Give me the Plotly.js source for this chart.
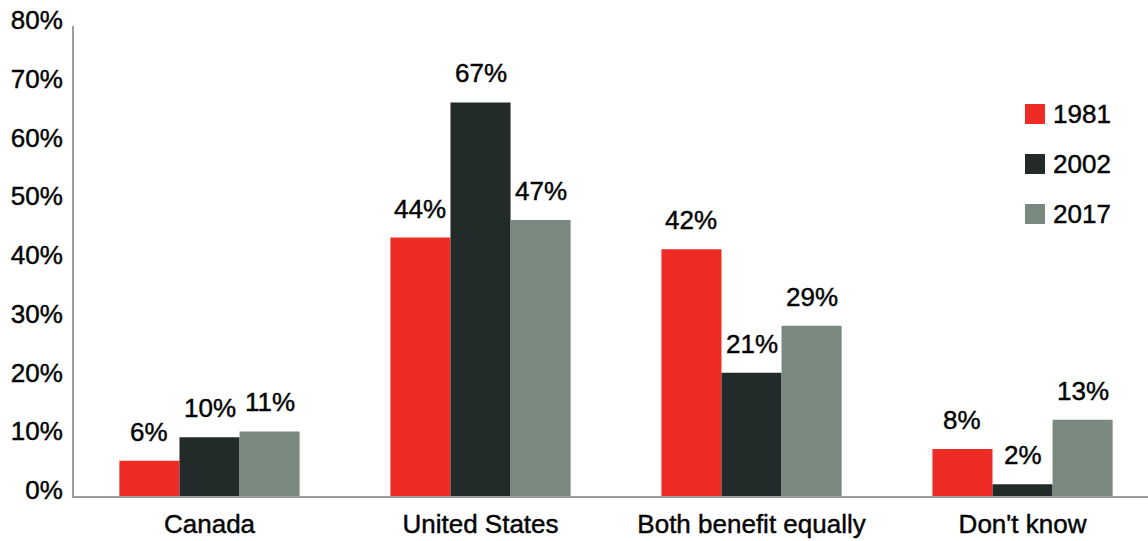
<!DOCTYPE html>
<html>
<head>
<meta charset="utf-8">
<script src="https://cdn.plot.ly/plotly-3.0.1.min.js"></script>
<style>
  html, body { margin: 0; padding: 0; background: #ffffff; }
  #chart { width: 1148px; height: 541px; }
  /* slightly heavier text strokes */
  #chart svg text { stroke: #050505; stroke-width: 0.45px; }
</style>
</head>
<body>
<div id="chart"></div>
<script>
// Survey answers by year
const categories = ['Canada', 'United States', 'Both benefit equally', "Don't know"];
const years = ['1981', '2002', '2017'];
const values1981 = [6, 44, 42, 8];
const values2002 = [10, 67, 21, 2];
const values2017 = [11, 47, 29, 13];
const yTickValues = [0, 10, 20, 30, 40, 50, 60, 70, 80];
const yTickLabels = ['0%', '10%', '20%', '30%', '40%', '50%', '60%', '70%', '80%'];

const seriesValues = [values1981, values2002, values2017];
const colors = ['#ee2c25', '#222b29', '#7a897f'];

const FONT = '"Liberation Sans", Arial, Helvetica, sans-serif';
const TEXT_COLOR = '#050505';
const W = 1148, H = 541;
const margin = { l: 74, r: 0, t: 26, b: 45 };
const plotW = W - margin.l - margin.r;
const plotH = H - margin.t - margin.b;
const bargap = 0.335;
const barFrac = (1 - bargap) / years.length;

const traces = seriesValues.map((vals, i) => ({
  type: 'bar',
  name: years[i],
  x: categories,
  y: vals,
  marker: { color: colors[i], line: { width: 0 } },
  showlegend: false,
  hoverinfo: 'skip'
}));

// value labels above each bar
const annotations = [];
seriesValues.forEach((vals, i) => {
  vals.forEach((v, c) => {
    annotations.push({
      x: c + (i - (years.length - 1) / 2) * barFrac,
      y: v,
      xref: 'x', yref: 'y',
      text: v + '%',
      showarrow: false,
      xanchor: 'center', yanchor: 'bottom',
      yshift: 12,
      font: { family: FONT, size: 26, color: TEXT_COLOR }
    });
  });
});

// legend: coloured squares with year labels
const px2x = p => (p - margin.l) / plotW;
const px2y = p => (H - margin.b - p) / plotH;
const shapes = [];
years.forEach((yr, i) => {
  const cy = 114 + i * 50;
  shapes.push({
    type: 'rect', xref: 'paper', yref: 'paper',
    x0: px2x(1025), x1: px2x(1045),
    y0: px2y(cy + 10), y1: px2y(cy - 10),
    fillcolor: colors[i], line: { width: 0 }
  });
  annotations.push({
    xref: 'paper', yref: 'paper',
    x: px2x(1051), y: px2y(cy),
    xanchor: 'left', yanchor: 'middle',
    text: yr, showarrow: false,
    font: { family: FONT, size: 26, color: TEXT_COLOR }
  });
});

const layout = {
  width: W, height: H,
  margin: margin,
  paper_bgcolor: '#ffffff',
  plot_bgcolor: '#ffffff',
  barmode: 'group',
  bargap: bargap,
  bargroupgap: 0,
  showlegend: false,
  font: { family: FONT, size: 26, color: TEXT_COLOR },
  xaxis: {
    type: 'category',
    range: [-0.5, 3.463],
    showgrid: false,
    zeroline: false,
    showline: true,
    linecolor: '#9d9d9d',
    linewidth: 2,
    ticks: '',
    ticklabelstandoff: 4,
    tickfont: { family: FONT, size: 26, color: TEXT_COLOR },
    fixedrange: true
  },
  yaxis: {
    range: [0, 80],
    tickvals: yTickValues,
    ticktext: yTickLabels,
    showgrid: false,
    zeroline: false,
    showline: true,
    linecolor: '#9d9d9d',
    linewidth: 2,
    ticks: '',
    ticklabelshift: -6,
    ticklabelstandoff: 4,
    tickfont: { family: FONT, size: 26, color: TEXT_COLOR },
    fixedrange: true
  },
  shapes: shapes,
  annotations: annotations
};

Plotly.newPlot('chart', traces, layout, { displayModeBar: false, staticPlot: true });
</script>
</body>
</html>
